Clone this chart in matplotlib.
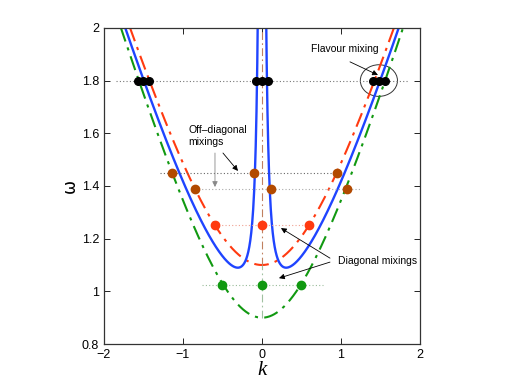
"""
Dispersion curves with flavour / diagonal / off-diagonal mixing markers
"""
import numpy as np
import matplotlib
matplotlib.use("Agg")
import matplotlib.pyplot as plt
from matplotlib.patches import Ellipse

# masses (omega at k = 0)
m_green = 0.9
m_red = 1.1
m_blue = 1.0
eps2_blue = 0.0088   # sets the blue minimum (~1.09 at k ~ 0.31)

# marker points
black_k = [-1.57, -1.50, -1.43, -0.07, 0.0, 0.07, 1.405, 1.48, 1.56]
black_w = [1.8] * 9
red_k = [-0.6, 0.0, 0.6]
red_w = [1.25, 1.25, 1.25]
green_k = [-0.5, 0.0, 0.5]
green_w = [1.025, 1.025, 1.025]
brown_k = [-1.14, -0.10, 0.945, -0.85, 0.11, 1.07]
brown_w = [1.45, 1.45, 1.45, 1.39, 1.39, 1.39]

# dotted guide lines: (omega, k_from, k_to)
guide_w = [1.8, 1.45, 1.39, 1.25, 1.025]
guide_k0 = [-1.85, -1.29, -0.85, -0.6, -0.76]
guide_k1 = [1.85, 0.95, 1.24, 0.6, 0.77]
guide_col = ['#777777', '#666666', '#aaaaaa', '#f0a090', '#99bb99']

BLUE = '#1f44ff'
RED = '#ff3a10'
GREEN = '#119911'
BROWN = '#b24a00'
DASHDOT = (0, (7, 3, 1.5, 3))


def draw():
    fig = plt.figure(figsize=(5.06, 3.87), dpi=100)
    ax = fig.add_axes([0.2055, 0.111, 0.6245, 0.817])

    k = np.linspace(-2, 2, 801)
    ax.plot(k, np.sqrt(k**2 + m_green**2), color=GREEN, lw=1.5, ls=DASHDOT)
    ax.plot(k, np.sqrt(k**2 + m_red**2), color=RED, lw=1.5, ls=DASHDOT)

    # blue branch diverges at k -> 0
    for side in (-1, 1):
        kb = side * np.linspace(0.03, 2, 800)
        ax.plot(kb, np.sqrt(kb**2 + m_blue**2 + eps2_blue / kb**2),
                color=BLUE, lw=1.7)

    # k = 0 guide
    ax.plot([0, 0], [m_red, 2], color='#c08060', lw=0.8, ls=DASHDOT)
    ax.plot([0, 0], [m_green, m_red], color='#a0c0a0', lw=0.8, ls=DASHDOT)

    for w, a, b, c in zip(guide_w, guide_k0, guide_k1, guide_col):
        ax.plot([a, b], [w, w], color=c, lw=0.8, ls=(0, (1, 2)))

    ax.plot(black_k, black_w, 'o', color='k', ms=5.5)
    ax.plot(red_k, red_w, 'o', color=RED, ms=6)
    ax.plot(green_k, green_w, 'o', color=GREEN, ms=6)
    ax.plot(brown_k, brown_w, 'o', color=BROWN, ms=6)

    ax.add_patch(Ellipse((1.48, 1.8), 0.47, 0.12, fill=False,
                         edgecolor='#333333', lw=0.7))

    arrow = dict(arrowstyle='-|>', lw=0.6, color='k', mutation_scale=8,
                 shrinkA=0, shrinkB=0)
    tfont = dict(fontsize=7.5, family='Liberation Sans')

    ax.text(1.044, 1.92, 'Flavour mixing', ha='center', va='center', **tfont)
    ax.annotate('', xy=(1.468, 1.821), xytext=(1.114, 1.871), arrowprops=arrow)

    ax.text(-0.93, 1.59, 'Off\u2013diagonal\nmixings', ha='left', va='center',
            linespacing=1.3, **tfont)
    ax.annotate('', xy=(-0.595, 1.396), xytext=(-0.595, 1.525),
                arrowprops=dict(arrow, color='#888888'))
    ax.annotate('', xy=(-0.304, 1.457), xytext=(-0.494, 1.525), arrowprops=arrow)

    ax.text(0.962, 1.115, 'Diagonal mixings', ha='left', va='center', **tfont)
    ax.annotate('', xy=(0.24, 1.24), xytext=(0.861, 1.126), arrowprops=arrow)
    ax.annotate('', xy=(0.215, 1.05), xytext=(0.861, 1.111), arrowprops=arrow)

    ax.set_xlim(-2, 2)
    ax.set_ylim(0.8, 2)
    ax.set_xticks([-2, -1, 0, 1, 2])
    ax.set_yticks([0.8, 1.0, 1.2, 1.4, 1.6, 1.8, 2.0])
    ax.set_yticklabels(['0.8', '1', '1.2', '1.4', '1.6', '1.8', '2'])
    ax.tick_params(direction='in', length=4, width=0.6, labelsize=9,
                   top=True, right=True)
    for lab in ax.get_xticklabels() + ax.get_yticklabels():
        lab.set_family('Liberation Sans')
    for s in ax.spines.values():
        s.set_linewidth(0.9)
        s.set_color('#333333')

    ax.set_xlabel('k', fontsize=15, family='Liberation Serif', style='italic',
                  labelpad=0)
    ax.set_ylabel('\u03c9', fontsize=12, labelpad=2)

    fig.savefig('out.png', dpi=100)


if __name__ == "__main__":
    draw()
